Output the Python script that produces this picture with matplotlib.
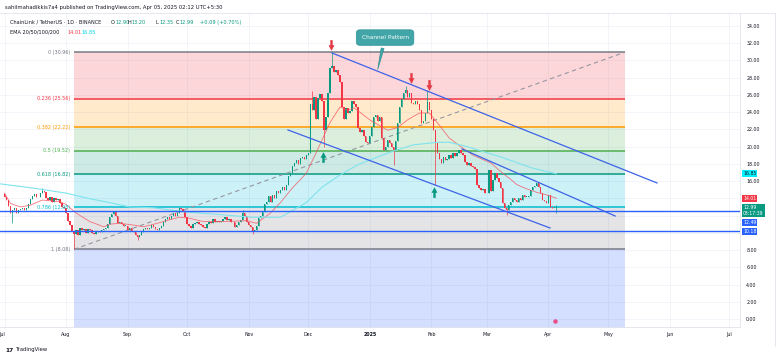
import numpy as np
import pandas as pd
import matplotlib
matplotlib.use("Agg")
import matplotlib.pyplot as plt
from matplotlib.path import Path
import matplotlib.transforms as mtransforms

plt.rcParams['font.family'] = ['DejaVu Sans']

# ---- dados ----
inicio = pd.Timestamp("2024-07-01")   # dia 0 do eixo x

fech_jul = [14.2, 13.8, 13.1, 12.3, 12.6, 12.9, 12.3, 12.6, 12.8, 12.9, 12.7, 12.9, 13.3, 13.9, 14.3, 14.5,
            14.2, 14.1, 14.6, 14.9, 14.7, 14.0, 13.8, 14.1, 13.6, 14.0, 13.8, 13.9, 13.5, 13.0, 12.9]
fech_ago = [12.3, 11.4, 10.9, 10.2, 9.9, 10.3, 9.8, 10.6, 10.3, 10.4, 10.0, 10.4, 10.3, 10.0, 9.9, 10.1,
            10.2, 10.1, 10.3, 10.4, 10.5, 11.0, 11.8, 12.2, 12.5, 11.9, 11.1, 11.2, 11.0, 10.8, 10.8]
fech_set = [10.3, 10.6, 10.2, 10.1, 9.8, 9.5, 9.8, 10.1, 10.4, 10.5, 10.4, 10.6, 10.9, 10.7, 10.4,
            10.3, 10.6, 10.8, 11.3, 11.6, 11.8, 11.6, 12.0, 12.3, 11.9, 12.3, 12.9, 12.8, 12.5, 11.8]
fech_out = [11.0, 10.8, 10.6, 11.0, 11.1, 11.2, 11.0, 10.9, 10.7, 10.5, 11.0, 11.2, 11.1, 11.6, 11.3, 11.4,
            11.2, 11.4, 11.6, 11.8, 11.5, 11.6, 11.2, 11.3, 10.7, 10.9, 11.2, 11.5, 12.3, 12.0, 11.3]
fech_nov = [10.9, 10.7, 10.2, 10.3, 10.8, 11.7, 12.0, 12.4, 13.3, 13.6, 14.3, 13.6, 14.4, 14.0, 14.8,
            14.6, 15.0, 15.3, 15.0, 15.6, 16.6, 16.9, 17.8, 18.1, 18.5, 18.0, 18.7, 18.8, 18.6, 19.0]
fech_dez = [19.2, 25.0, 24.3, 25.8, 23.2, 25.6, 26.1, 25.3, 21.9, 23.4, 26.2, 29.1, 29.4, 28.6, 28.9, 28.3,
            27.5, 24.6, 23.2, 24.5, 23.9, 24.1, 25.3, 25.0, 24.6, 22.2, 21.7, 21.9, 21.2, 20.5, 20.4]
fech_jan = [21.2, 22.3, 23.4, 23.7, 23.0, 23.4, 21.0, 19.6, 19.9, 20.8, 20.4, 20.0, 19.6, 20.6, 22.7, 24.6,
            25.5, 26.2, 26.6, 25.8, 26.2, 25.1, 25.0, 25.3, 24.9, 24.2, 22.7, 23.0, 23.9, 25.2, 24.2]
fech_fev = [23.2, 21.9, 20.4, 19.3, 18.6, 18.1, 18.8, 18.4, 18.6, 19.0, 18.7, 19.3, 18.9, 19.2,
            19.6, 19.3, 19.0, 18.2, 17.9, 18.1, 17.8, 17.6, 17.4, 15.5, 15.2, 15.0, 15.1, 14.6]
fech_mar = [14.6, 17.3, 14.9, 16.1, 16.9, 16.4, 15.9, 15.2, 13.5, 12.9, 12.7, 13.2, 13.6, 14.0, 13.8, 13.6,
            14.0, 13.8, 14.4, 14.2, 14.2, 14.3, 15.0, 15.3, 15.4, 15.8, 15.3, 14.6, 13.8, 13.7, 13.5]
fech_abr = [14.4, 13.0, 12.9, 12.90, 12.99]
abertura_inicial = 14.5

# pavios marcantes (máximas / mínimas)
pavio_max = {"2024-07-20": 15.2, "2024-10-29": 12.6, "2024-12-03": 26.4, "2024-12-13": 30.96,
             "2025-01-19": 27.0, "2025-01-30": 26.6, "2025-04-05": 13.20}
pavio_min = {"2024-07-05": 11.1, "2024-08-05": 8.08, "2024-09-06": 9.2, "2024-11-03": 9.9,
             "2024-12-09": 20.0, "2025-01-13": 17.9, "2025-02-03": 15.5, "2025-03-11": 12.1,
             "2025-04-05": 12.35}

# médias móveis (dias desde 2024-07-01, valor)
ema20_dias = [0, 3, 8, 13, 19, 28, 31, 36, 43, 50, 53, 58, 65, 70, 77, 83, 88, 93, 100, 109, 122, 127,
              134, 139, 145, 152, 157, 160, 164, 169, 173, 176, 179, 184, 193, 198, 203, 209, 214, 219,
              224, 231, 236, 245, 251, 255, 258, 263, 268, 273, 278]
ema20_vals = [14.6, 13.4, 13.0, 13.2, 13.8, 13.6, 13.3, 12.3, 11.3, 10.7, 11.0, 11.1, 10.9, 10.7, 11.1,
              11.5, 11.8, 11.7, 11.3, 11.3, 11.4, 11.1, 12.3, 13.5, 15.2, 16.9, 19.3, 20.8, 22.8, 24.6,
              24.2, 24.5, 24.0, 23.1, 21.9, 22.2, 23.1, 23.9, 23.9, 22.5, 21.0, 19.8, 19.0, 18.1, 16.9,
              16.2, 15.6, 15.1, 14.7, 14.4, 14.01]
ema50_dias = [-3, 14, 31, 42, 53, 63, 75, 92, 109, 125, 139, 152, 160, 169, 178, 188, 196, 206, 218,
              224, 233, 250, 266, 278]
ema50_vals = [15.7, 15.2, 14.6, 14.0, 13.5, 13.0, 12.9, 12.4, 12.1, 11.8, 11.8, 13.5, 15.3, 16.7, 17.9,
              18.8, 19.5, 20.2, 20.5, 20.5, 20.0, 18.8, 17.5, 16.85]

# fibonacci
fib_topo, fib_base = 30.96, 8.08
fib_niveis = [0, 0.236, 0.382, 0.5, 0.618, 0.786, 1]
fib_cores = ["#787B86", "#F23645", "#FF9800", "#4CAF50", "#089981", "#00BCD4", "#787B86"]
fib_ini, fib_fim = 35, 312.6
cor_ext = "#2962FF"

linhas_h = [12.49, 10.18]
canal_sup = ([165, 328.7], [30.86, 15.78])
canal_inf = ([142.8, 274.8], [21.93, 10.56])
canal_meio = ([230.5, 307.6], [19.72, 11.95])

setas_baixo_d = [164.5, 204.8, 213.9]
setas_baixo_p = [31.8, 27.96, 27.15]
setas_cima_d = [160.4, 216.4]
setas_cima_p = [18.79, 14.73]

meses = ["2024-07-01", "2024-08-01", "2024-09-01", "2024-10-01", "2024-11-01", "2024-12-01",
         "2025-01-01", "2025-02-01", "2025-03-01", "2025-04-01", "2025-05-01", "2025-06-01", "2025-07-01"]
meses_rot = ["Jul", "Aug", "Sep", "Oct", "Nov", "Dec", "2025", "Feb", "Mar", "Apr", "May", "Jun", "Jul"]

# escala de preço: valores cobertos pelas etiquetas ficam sem rótulo
escala = [0, 2, 4, 6, 8, 10, 12, 14, 16, 18, 20, 22, 24, 26, 28, 30, 32, 34]
escala_oculta = [10, 12, 14]

# etiquetas da escala de preço (posição na escala, texto, fundo, cor do texto)
etiquetas = [(16.85, "16.85", "#00F0FF", "#131722"), (14.01, "14.01", "#F23645", "white"),
             (12.58, "12.99\n03:17:39", "#089981", "white"),
             (11.2, "12.49", "#2962FF", "white"), (10.18, "10.18", "#2962FF", "white")]

# ---- montar velas ----
fech = np.array(fech_jul + fech_ago + fech_set + fech_out + fech_nov + fech_dez +
                fech_jan + fech_fev + fech_mar + fech_abr)
dias = np.arange(len(fech))
abre = np.concatenate([[abertura_inicial], fech[:-1]])
maxi = np.maximum(abre, fech)
mini = np.minimum(abre, fech)
for k, v in pavio_max.items():
    maxi[(pd.Timestamp(k) - inicio).days] = v
for k, v in pavio_min.items():
    mini[(pd.Timestamp(k) - inicio).days] = v

VERDE, VERMELHO = "#089981", "#F23645"
cores = np.where(fech >= abre, VERDE, VERMELHO)

W, H = 780, 359
fig = plt.figure(figsize=(W / 100, H / 100), dpi=100)
ax = fig.add_axes([0, 32 / H, 740 / W, 314 / H])
ax.set_xlim(-2.27, 370.5)
ax.set_ylim(-0.93, 35.5)

def px(x, y):
    return x / W, 1 - y / H

# faixas de fibonacci
ext = fib_base - 0.618 * (fib_topo - fib_base)
precos = [fib_topo - r * (fib_topo - fib_base) for r in fib_niveis]
for i in range(1, len(precos)):
    ax.fill_between([fib_ini, fib_fim], precos[i], precos[i - 1], color=fib_cores[i], alpha=0.2, lw=0, zorder=1)
ax.fill_between([fib_ini, fib_fim], ext, precos[-1], color=cor_ext, alpha=0.2, lw=0, zorder=1)
for r, p, c in zip(fib_niveis, precos, fib_cores):
    ax.hlines(p, fib_ini, fib_fim, color=c, lw=1.1, zorder=2)
    ax.text(fib_ini - 2, p, f"{r:g} ({p:.2f})", ha="right", va="center", fontsize=3.5, color=c, zorder=5)

ax.plot([fib_ini, fib_fim], [fib_base, fib_topo], color="#9598A1", lw=0.8, ls=(0, (4, 3)), zorder=2)

# velas
ax.vlines(dias, mini, maxi, color=cores, lw=0.5, zorder=3)
ax.bar(dias, np.maximum(np.abs(fech - abre), 0.06), bottom=np.minimum(abre, fech), width=0.7,
       color=cores, lw=0, zorder=3)

# médias
ax.plot(ema20_dias, ema20_vals, color="#F7525F", lw=0.6, alpha=0.8, zorder=4)
ax.plot(ema50_dias, ema50_vals, color="#7FE3EE", lw=0.8, zorder=4)

# linhas horizontais e canal
for p in linhas_h:
    ax.axhline(p, color="#2962FF", lw=1.0, zorder=4)
for xs, ys in (canal_sup, canal_inf, canal_meio):
    ax.plot(xs, ys, color="#3D63E8", lw=0.9, zorder=4)

# setas
seta = Path([(-0.22, 1), (0.22, 1), (0.22, 0.05), (0.55, 0.05), (0, -1), (-0.55, 0.05), (-0.22, 0.05), (-0.22, 1)],
            [Path.MOVETO] + [Path.LINETO] * 6 + [Path.CLOSEPOLY])
seta_cima = Path(seta.vertices * [1, -1], seta.codes)
ax.scatter(setas_baixo_d, setas_baixo_p, marker=seta, s=60, color="#E53945", lw=0, zorder=6)
ax.scatter(setas_cima_d, setas_cima_p, marker=seta_cima, s=60, color="#089981", lw=0, zorder=6)
ax.scatter([277.3], [-0.25], s=5, color="#E84E8A", zorder=6, clip_on=False)

# callout
ax.annotate("Channel Pattern", xy=(187.7, 28.65), xytext=(191.7, 32.65), fontsize=4.2, color="white",
            ha="center", va="center", zorder=7,
            bbox=dict(boxstyle="round,pad=0.9,rounding_size=0.6", fc="#42A5A8", ec="#2F9396", lw=0.5),
            arrowprops=dict(arrowstyle="wedge,tail_width=0.5,shrink_factor=0.5", fc="#42A5A8", ec="#2F9396", lw=0.5))

# eixos
ax.yaxis.tick_right()
ax.set_yticks(escala)
ax.set_yticklabels(["" if v in escala_oculta else f"{v:.2f}" for v in escala])
ax.tick_params(axis="y", length=0, pad=4.5, labelsize=3.4, labelcolor="#131722")
mdias = [(pd.Timestamp(m) - inicio).days for m in meses]
ax.set_xticks(mdias)
ax.set_xticklabels(meses_rot)
ax.tick_params(axis="x", length=0, pad=3.5, labelsize=3.4, labelcolor="#131722")
rots = ax.get_xticklabels()
rots[0].set_horizontalalignment("right")
for t in rots:
    if t.get_text() == "2025":
        t.set_fontweight("bold")
ax.grid(color="#F0F3FA", lw=0.6, zorder=0)
ax.set_axisbelow(True)
for s in ["left", "top"]:
    ax.spines[s].set_visible(False)
for s in ["right", "bottom"]:
    ax.spines[s].set_color("#E0E3EB")
    ax.spines[s].set_linewidth(0.6)

fig.add_artist(plt.Line2D([0, 775 / W], [1 - 13 / H] * 2, color="#E0E3EB", lw=0.6))
fig.add_artist(plt.Line2D([775 / W] * 2, [1 - 13 / H, 1 - 346 / H], color="#E0E3EB", lw=0.6))

# etiquetas de preço à direita
mix = mtransforms.blended_transform_factory(fig.transFigure, ax.transData)
for y, txt, fc, tc in etiquetas:
    fig.text(743 / W, y, txt, transform=mix, fontsize=3.3, color=tc, va="center", ha="left",
             linespacing=1.05, bbox=dict(boxstyle="square,pad=0.22", fc=fc, ec="none"))

# cabeçalho
fig.text(*px(5, 7), "sahilmahadikkis7a4 published on TradingView.com, Apr 05, 2025 02:12 UTC+5:30",
         fontsize=3.8, color="#131722", va="center")
fig.text(*px(10, 22.5), "ChainLink / TetherUS · 1D · BINANCE", fontsize=3.6, color="#131722", va="center")
for x, lab, val in [(111, "O", "12.90"), (128, "H", "13.20"), (155, "L", "12.35"), (176, "C", "12.99")]:
    fig.text(*px(x, 22.5), lab, fontsize=3.6, color="#131722", va="center")
    fig.text(*px(x + 4, 22.5), val, fontsize=3.6, color=VERDE, va="center")
fig.text(*px(200, 22.5), "+0.09 (+0.70%)", fontsize=3.6, color=VERDE, va="center")
fig.text(*px(10, 32), "EMA 20/50/100/200", fontsize=3.6, color="#131722", va="center")
fig.text(*px(67, 32), "14.01", fontsize=3.6, color=VERMELHO, va="center")
fig.text(*px(81, 32), "16.85", fontsize=3.6, color="#00D5E6", va="center")

fig.text(*px(5, 350), "17", fontsize=4.2, fontweight="bold", color="#131722", va="center")
fig.text(*px(16, 350), "TradingView", fontsize=3.8, color="#131722", va="center")

fig.savefig("out.png", dpi=100)
